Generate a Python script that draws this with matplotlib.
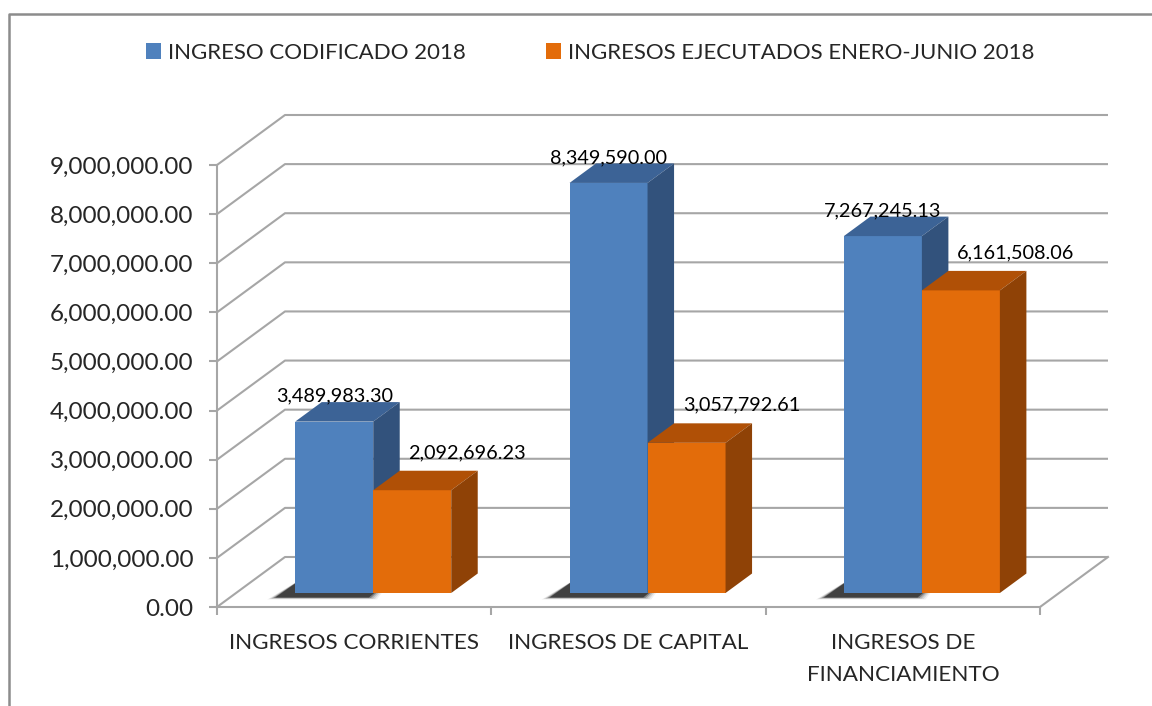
import matplotlib
matplotlib.use("Agg")
import matplotlib.pyplot as plt
from matplotlib.patches import Polygon, Rectangle
from matplotlib.lines import Line2D
from matplotlib.ticker import FuncFormatter, FixedLocator

categories = ["INGRESOS CORRIENTES", "INGRESOS DE CAPITAL", "INGRESOS DE\nFINANCIAMIENTO"]
series_names = ["INGRESO CODIFICADO 2018", "INGRESOS EJECUTADOS ENERO-JUNIO 2018"]
codificado = [3489983.30, 8349590.00, 7267245.13]
ejecutado = [2092696.23, 3057792.61, 6161508.06]
yticks = [0, 1e6, 2e6, 3e6, 4e6, 5e6, 6e6, 7e6, 8e6, 9e6]

FONT = "Lato"
W, H = 1152, 706
fig = plt.figure(figsize=(W / 100, H / 100), dpi=100)
fig.patch.set_facecolor("white")

# front plane of the 3D box in pixels
L, R, B, T = 217, 1040, 607, 165
ax = fig.add_axes([L / W, (H - B) / H, (R - L) / W, (B - T) / H])
ax.set_xlim(-0.5, len(categories) - 0.5)
ax.set_ylim(0, 9e6)
ax.patch.set_visible(False)

px_x = (len(categories)) / (R - L)          # category units per pixel
px_y = 9e6 / (B - T)                         # value units per pixel
DX, DY = 68 * px_x, 50 * px_y                # depth offset of back wall

grid_c = "#A6A6A6"
x0, x1 = -0.5, len(categories) - 0.5
for v in yticks:
    ax.plot([x0, x0 + DX, x1 + DX], [v, v + DY, v + DY], color=grid_c, lw=1.5,
            clip_on=False, zorder=1, solid_capstyle="butt")
ax.plot([x1, x1 + DX], [0, DY], color=grid_c, lw=1.5, clip_on=False, zorder=1)

# bars
bw = 78 * px_x
f0, f1 = 0.28, 0.67
colors = [("#4F81BD", "#3C6396", "#32527C"), ("#E36C0A", "#B05006", "#8F4206")]


def draw_bar(xl, h, cols, z):
    front, top, side = cols
    ox0, oy0 = f0 * DX, f0 * DY
    ox1, oy1 = f1 * DX, f1 * DY
    ax.add_patch(Polygon([(xl + ox0, oy0), (xl + bw + ox0, oy0), (xl + bw + ox0, h + oy0), (xl + ox0, h + oy0)],
                         closed=True, fc=front, ec="none", clip_on=False, zorder=z))
    ax.add_patch(Polygon([(xl + ox0, h + oy0), (xl + bw + ox0, h + oy0), (xl + bw + ox1, h + oy1), (xl + ox1, h + oy1)],
                         closed=True, fc=top, ec="none", clip_on=False, zorder=z))
    ax.add_patch(Polygon([(xl + bw + ox0, oy0), (xl + bw + ox1, oy1), (xl + bw + ox1, h + oy1), (xl + bw + ox0, h + oy0)],
                         closed=True, fc=side, ec="none", clip_on=False, zorder=z))


fmt = lambda v: f"{v:,.2f}"
for i in range(len(categories)):
    xb = i - bw
    xo = i
    # soft shadow on floor
    for k, a in enumerate([0.06, 0.1, 0.16, 0.28, 0.5]):
        s = (5 - k) * 2.0
        sx, sy = -18 * px_x, -4 * px_y
        ax.add_patch(Polygon([(xb + f0 * DX + sx - s * px_x, f0 * DY + sy - s * 0.25 * px_y),
                              (xo + bw * 0.15 + f0 * DX + sx + s * px_x, f0 * DY + sy - s * 0.25 * px_y),
                              (xo + bw * 0.15 + f1 * DX + sx, f1 * DY + sy),
                              (xb + f1 * DX + sx, f1 * DY + sy)],
                             closed=True, fc="black", ec="none", alpha=a, clip_on=False, zorder=2))
    draw_bar(xb, codificado[i], colors[0], 3 + i)
    draw_bar(xo, ejecutado[i], colors[1], 3 + i)
    ax.text(xb + f0 * DX + bw / 2, codificado[i] + f1 * DY + 6 * px_y, fmt(codificado[i]),
            ha="center", va="center", fontsize=14.3, family=FONT, color="#000000", zorder=10)
    ax.text(xo + f0 * DX + bw / 2 + 55 * px_x, ejecutado[i] + f1 * DY + 18 * px_y, fmt(ejecutado[i]),
            ha="center", va="center", fontsize=14.3, family=FONT, color="#000000", zorder=10)

# axes styling
for sp in ["top", "right"]:
    ax.spines[sp].set_visible(False)
for sp in ["left", "bottom"]:
    ax.spines[sp].set_color(grid_c)
    ax.spines[sp].set_linewidth(1.5)
ax.set_yticks(yticks)
ax.yaxis.set_major_formatter(FuncFormatter(lambda v, p: f"{v:,.2f}"))
ax.tick_params(axis="y", length=6, width=1.5, color=grid_c, labelsize=17.5, pad=11, labelcolor="#262626")
ax.set_xticks(range(len(categories)))
ax.set_xticklabels(categories, fontsize=16.2, family=FONT, color="#262626", linespacing=1.75)
ax.tick_params(axis="x", which="major", length=0, pad=18.5)
ax.xaxis.set_minor_locator(FixedLocator([-0.5, 0.5, 1.5, 2.5]))
ax.tick_params(axis="x", which="minor", length=6, width=1.5, color=grid_c)
for lbl in ax.get_yticklabels():
    lbl.set_family(FONT)
for lbl in ax.get_xticklabels():
    lbl.set_verticalalignment("top")

# legend
leg = fig.legend(handles=[Rectangle((0, 0), 1, 1, fc=colors[0][0]), Rectangle((0, 0), 1, 1, fc=colors[1][0])],
                 labels=series_names, loc="center", bbox_to_anchor=(590 / W, 1 - 53 / H), ncol=2, frameon=False,
                 prop={"family": FONT, "size": 16}, handlelength=0.7, handleheight=0.7, handletextpad=0.3,
                 columnspacing=3.6)
for t in leg.get_texts():
    t.set_color("#262626")

# chart frame
fig.add_artist(Line2D([9 / W, 9 / W, 1], [0, 1 - 14 / H, 1 - 14 / H], color="#8C8C8C", lw=1.8,
                      transform=fig.transFigure))

fig.savefig("out.png", dpi=100)
